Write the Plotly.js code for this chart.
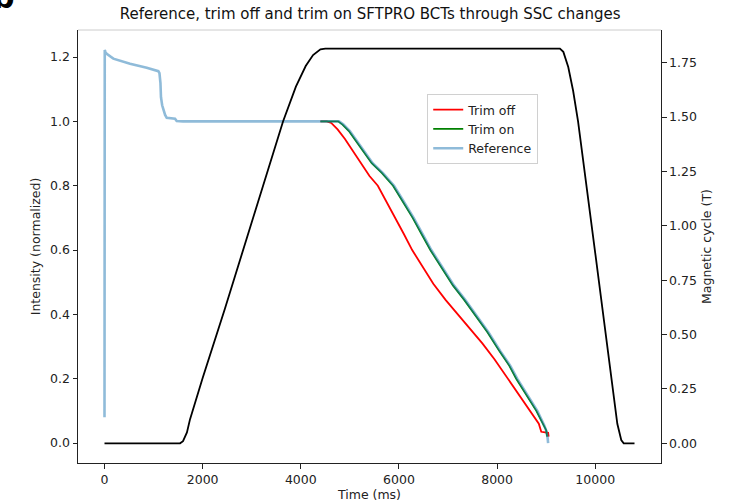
<!DOCTYPE html>
<html>
<head>
<meta charset="utf-8">
<script src="https://cdn.plot.ly/plotly-3.0.1.min.js"></script>
<style>html,body{margin:0;padding:0;background:#fff;}#chart{width:730px;height:503px;}</style>
</head>
<body>
<div id="chart"></div>
<script>
// Trim off (red)
const trimOffTime = [4400, 4530, 4620, 4750, 4900, 5050, 5200, 5400, 5570, 5750, 5930, 6100, 6270, 6470, 6700, 6950, 7205, 7450, 7700, 7950, 8225, 8450, 8650, 8850, 8900, 9040, 9050];
const trimOffVal  = [1.0, 1.0, 0.995, 0.975, 0.945, 0.91, 0.873, 0.83, 0.80, 0.75, 0.70, 0.65, 0.60, 0.55, 0.495, 0.445, 0.40, 0.355, 0.31, 0.26, 0.20, 0.15, 0.105, 0.06, 0.035, 0.032, 0.02];
// Trim on (green)
const trimOnTime = [4400, 4760, 4850, 4980, 5120, 5280, 5445, 5650, 5880, 6080, 6280, 6460, 6640, 6870, 7100, 7330, 7550, 7800, 8050, 8250, 8390, 8600, 8800, 8950, 9000, 9020];
const trimOnVal  = [1.0, 1.0, 0.99, 0.97, 0.94, 0.905, 0.87, 0.84, 0.80, 0.75, 0.70, 0.65, 0.60, 0.545, 0.49, 0.445, 0.40, 0.345, 0.285, 0.24, 0.20, 0.15, 0.10, 0.055, 0.04, 0.02];
// Reference (light blue)
const refTime = [0, 5, 20, 45, 180, 520, 860, 1097, 1120, 1140, 1151, 1175, 1200, 1235, 1268, 1350, 1437, 1471, 1600, 4780, 4870, 5000, 5140, 5300, 5465, 5670, 5900, 6100, 6300, 6480, 6660, 6890, 7120, 7350, 7570, 7820, 8070, 8270, 8410, 8620, 8820, 8960, 9010, 9030, 9040];
const refVal  = [0.08, 1.222, 1.215, 1.21, 1.195, 1.179, 1.167, 1.156, 1.15, 1.12, 1.075, 1.05, 1.034, 1.02, 1.011, 1.009, 1.008, 1.001, 1.0, 1.0, 0.99, 0.97, 0.94, 0.905, 0.87, 0.84, 0.80, 0.75, 0.70, 0.65, 0.60, 0.545, 0.49, 0.445, 0.40, 0.345, 0.285, 0.24, 0.20, 0.15, 0.10, 0.055, 0.035, 0.015, 0.0];
// Magnetic cycle (black, right axis)
const magTime = [0, 1540, 1600, 1680, 1742, 1850, 2000, 2455, 3000, 3638, 3900, 4100, 4250, 4400, 4500, 9280, 9350, 9450, 9550, 9650, 10000, 10300, 10450, 10530, 10580, 10800];
const magVal  = [0, 0, 0.01, 0.05, 0.11, 0.19, 0.30, 0.62, 1.02, 1.48, 1.64, 1.735, 1.785, 1.812, 1.815, 1.815, 1.80, 1.73, 1.62, 1.48, 0.875, 0.355, 0.09, 0.015, 0, 0];

const leftTicks = [0, 0.2, 0.4, 0.6, 0.8, 1.0, 1.2];
const rightTicks = [0, 0.25, 0.5, 0.75, 1.0, 1.25, 1.5, 1.75];
const xTicks = [0, 2000, 4000, 6000, 8000, 10000];

const F = "DejaVu Sans, sans-serif";
const FS = 12.5;

const traces = [
  {x: trimOffTime, y: trimOffVal, mode: 'lines', name: 'Trim off', line: {color: '#ff0000', width: 1.8}, yaxis: 'y'},
  {x: trimOnTime, y: trimOnVal, mode: 'lines', name: 'Trim on', line: {color: '#008000', width: 1.8}, yaxis: 'y'},
  {x: refTime, y: refVal, mode: 'lines', name: 'Reference', line: {color: 'rgba(31,119,180,0.5)', width: 2.6}, yaxis: 'y'},
  {x: magTime, y: magVal, mode: 'lines', name: 'Magnetic cycle', showlegend: false, line: {color: '#000000', width: 1.8}, yaxis: 'y2'}
];

const layout = {
  width: 730, height: 503,
  margin: {l: 78, r: 69, t: 30, b: 40},
  paper_bgcolor: '#fff', plot_bgcolor: '#fff',
  font: {family: F, size: FS, color: '#222'},
  title: {text: 'Reference, trim off and trim on SFTPRO BCTs through SSC changes', font: {family: F, size: 15, color: '#111'}, x: 0.507, xanchor: 'center', y: 0.972, yanchor: 'middle'},
  showlegend: true,
  legend: {x: 0.599, y: 0.852, xanchor: 'left', yanchor: 'top', bgcolor: 'rgba(255,255,255,0.9)', bordercolor: '#d0d0d0', borderwidth: 1, font: {family: F, size: FS, color: '#222'}, tracegroupgap: 0, itemwidth: 30},
  xaxis: {
    range: [-540, 11340], tickvals: xTicks, ticktext: xTicks.map(String),
    showgrid: false, zeroline: false, showline: true, linecolor: '#222', linewidth: 1,
    ticks: 'outside', ticklen: 4.5, tickcolor: '#222', tickfont: {family: F, size: FS, color: '#222'},
    title: {text: 'Time (ms)', font: {family: F, size: FS, color: '#222'}, standoff: 3}
  },
  yaxis: {
    range: [-0.062, 1.284], tickvals: leftTicks, ticktext: leftTicks.map(v => v.toFixed(1)),
    showgrid: false, zeroline: false, showline: true, linecolor: '#222', linewidth: 1,
    ticks: 'outside', ticklen: 4.5, tickcolor: '#222', tickfont: {family: F, size: FS, color: '#222'},
    title: {text: 'Intensity (normalized)', font: {family: F, size: FS, color: '#222'}, standoff: 6}
  },
  yaxis2: {
    range: [-0.0905, 1.9005], tickvals: rightTicks, ticktext: rightTicks.map(v => v.toFixed(2)),
    overlaying: 'y', side: 'right',
    showgrid: false, zeroline: false, showline: true, linecolor: '#222', linewidth: 1,
    ticks: 'outside', ticklen: 4.5, tickcolor: '#222', tickfont: {family: F, size: FS, color: '#222'},
    title: {text: 'Magnetic cycle (T)', font: {family: F, size: FS, color: '#222'}, standoff: 6}
  },
  shapes: [
    {type: 'line', xref: 'paper', yref: 'paper', x0: 0, x1: 1, y0: 1, y1: 1, line: {color: '#cccccc', width: 1}}
  ],
  annotations: [
    {text: '<b>b</b>', xref: 'paper', yref: 'paper', x: -0.149, y: 1.030, xanchor: 'left', yanchor: 'bottom', showarrow: false, font: {family: 'DejaVu Sans, sans-serif', size: 30, color: '#000'}}
  ]
};

Plotly.newPlot('chart', traces, layout, {displayModeBar: false, staticPlot: true});
</script>
</body>
</html>
